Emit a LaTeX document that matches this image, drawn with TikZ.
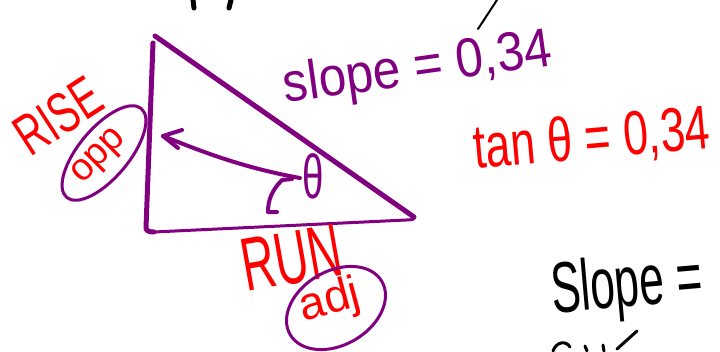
\documentclass[tikz,border=0pt]{standalone}
\usepackage{fontspec}
\setmainfont{Liberation Sans}
\definecolor{penpurple}{RGB}{128,0,128}
\definecolor{penred}{RGB}{255,0,0}
\begin{document}
\begin{tikzpicture}[x=1pt,y=-1pt,
  pen/.style={line width=5pt,line cap=round,line join=round,draw=penpurple},
  thinpen/.style={line width=3pt,line cap=round,line join=round,draw=penpurple},
  blackpen/.style={line width=4pt,line cap=round,line join=round,draw=black},
  handtxt/.style={inner sep=0pt,font=\fontsize{#1}{#1}\selectfont},
  purpletxt/.style={text=penpurple},
  redtxt/.style={text=penred},
]
\useasboundingbox[fill=white] (0,0) rectangle (720,351);

% triangle
\coordinate (top) at (155,36);
\coordinate (vtop) at (153,43);
\coordinate (corner) at (146,228);
\coordinate (right) at (414,217);
\draw[pen] (top) -- (right);
\draw[pen] (vtop) -- (corner) to[out=-88,in=180] (154,232);
\draw[thinpen] (154,232) -- (406,220) to[out=0,in=-60] (right);

% theta
\node[handtxt=62,purpletxt,xscale=0.62] (theta) at (313,176) {θ};

% curved arrow to the left side
\coordinate (arrS) at (300,178);
\coordinate (arrE) at (163,136);
\draw[pen,line width=4pt] (arrS) .. controls (245,168) and (205,153) .. (arrE);
\draw[pen,line width=4pt] (182,130) -- (arrE) -- (178,148);

% small hook arrow
\coordinate (hkS) at (292,179);
\coordinate (hkE) at (268,212);
\draw[pen,line width=4pt] (hkS) -- (282,180) .. controls (272,190) and (268,200) .. (hkE) -- (277,212);

% slope = 0,34
\node[handtxt=55,purpletxt,rotate=8,xscale=0.9] (slope) at (418,70) {slope = 0,34};

% tan theta = 0,34
\node[handtxt=62,redtxt,rotate=5,xscale=0.72] (tan) at (592,140) {tan θ = 0,34};

% RISE
\node[handtxt=46,redtxt,rotate=33,xscale=0.85,yscale=1.25] (rise) at (58,116) {RISE};

% opp with ellipse
\node[handtxt=38,redtxt,rotate=45] (opp) at (100,158) {opp};
\draw[thinpen] (104,153) ellipse [x radius=58,y radius=25,rotate=50];

% RUN
\node[handtxt=58,redtxt,rotate=10,xscale=0.8,yscale=1.3] (run) at (292,258) {RUN};

% adj with ellipse
\node[handtxt=46,redtxt,rotate=15] (adj) at (330,302) {adj};
\draw[thinpen] (336,308) ellipse [x radius=53,y radius=37,rotate=30];

% Slope = (black)
\node[handtxt=60,rotate=5,xscale=0.74,yscale=1.2] (slopeb) at (627,288) {Slope =};

% black fragments cut by the edges
\draw[line width=2pt,line cap=round] (478,29) -- (497,0);
\draw[blackpen,line width=5pt] (193,0) -- (194,8);
\draw[blackpen,line width=5pt] (231,0) -- (229,8);
\draw[blackpen,line width=3pt] (553,351) .. controls (556,342) and (566,340) .. (570,347);
\draw[blackpen,line width=3pt] (585,346) -- (587,351);
\draw[blackpen,line width=3pt] (603,345) -- (604,351);
\draw[blackpen,line width=3pt] (617,349) -- (637,331);
\end{tikzpicture}
\end{document}
